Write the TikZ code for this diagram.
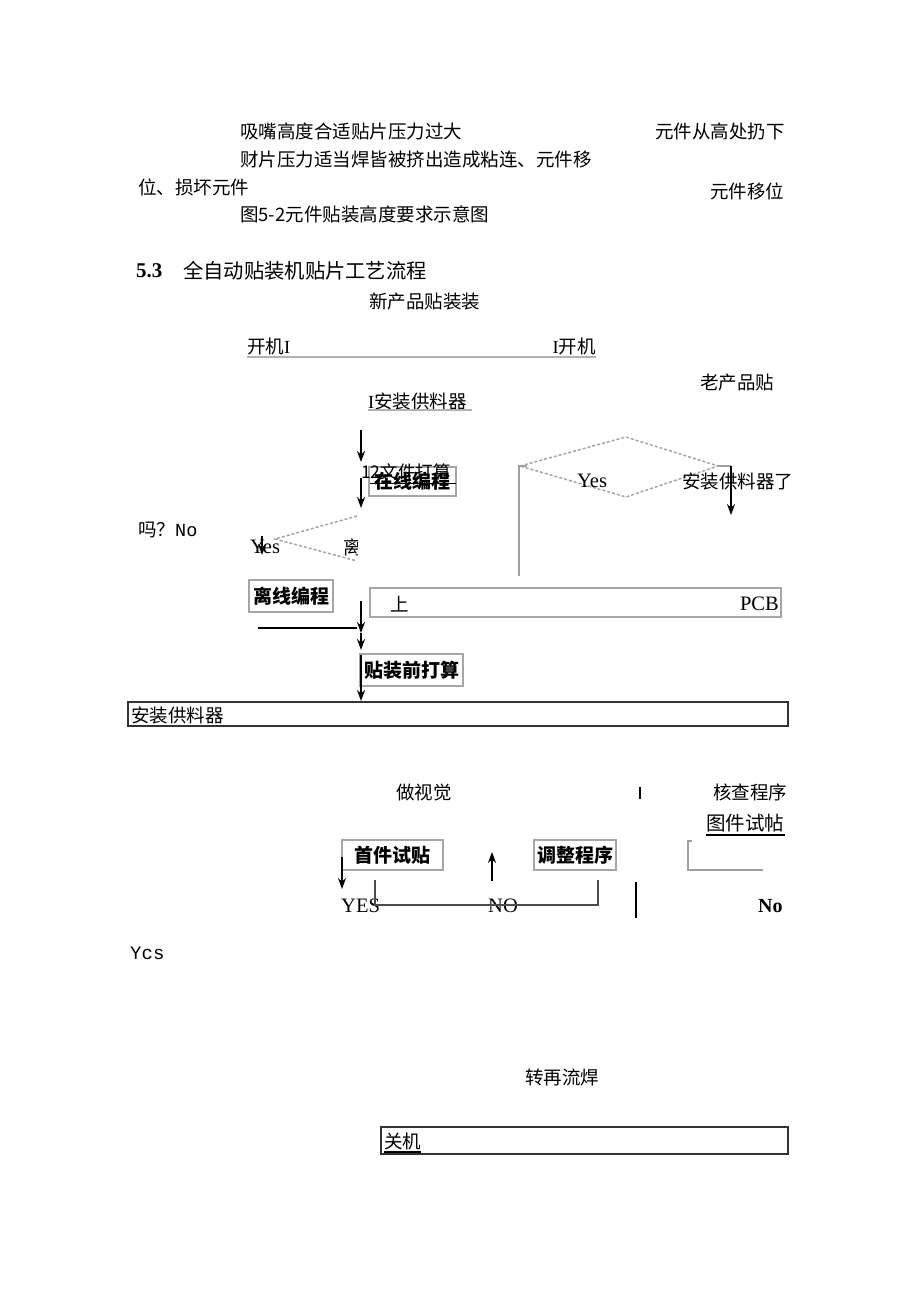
\documentclass[tikz,border=0pt]{standalone}
\usepackage{fontspec}
\setmainfont{Liberation Serif}
\newfontfamily\cjk{Noto Sans CJK SC}
\newfontfamily\monof{Liberation Mono}
\usetikzlibrary{arrows.meta}
\begin{document}
\begin{tikzpicture}[x=1pt,y=-1pt,
  txt/.style={inner sep=0pt, anchor=west, font=\cjk\fontsize{18.5}{19}\selectfont},
  lat/.style={inner sep=0pt, anchor=west, font=\rmfamily\fontsize{20.5}{21}\selectfont},
  boxb/.style={draw=gray!70, line width=1.6pt, inner sep=0pt, font=\cjk\bfseries\fontsize{19}{20}\selectfont},
  wbox/.style={draw=black!80, line width=1.3pt, inner sep=0pt},
  arr/.style={-{Stealth[length=11pt,width=8pt]}, line width=1.5pt, black},
  gline/.style={gray!75, line width=1.6pt},
  dia/.style={gray!70, line width=1.5pt, densely dashed},
  uline/.style={gray!60, line width=2pt}]
\useasboundingbox (0,0) rectangle (920,1301);
\fill[white] (0,0) rectangle (920,1301);

% upper text block
\node[txt] (t1) at (240,131) {吸嘴高度合适贴片压力过大};
\node[txt] (t2) at (655,131) {元件从高处扔下};
\node[txt] (t3) at (240,160) {财片压力适当焊皆被挤出造成粘连、元件移};
\node[txt] (t4) at (138,187) {位、损坏元件};
\node[txt] (t5) at (710,191) {元件移位};
\node[txt] (t6) at (240,214) {图5-2元件贴装高度要求示意图};

% heading
\node[inner sep=0pt, anchor=west, font=\rmfamily\bfseries\fontsize{21}{21}\selectfont] (h53) at (136,271) {5.3};
\node[inner sep=0pt, anchor=west, font=\cjk\fontsize{20.3}{22}\selectfont] (htitle) at (183,271) {全自动贴装机贴片工艺流程};

\node[txt] (newp) at (369,301) {新产品贴装装};
\node[txt] (k1) at (247,347) {开机{\rmfamily I}};
\node[txt, anchor=east] (k2) at (596,347) {{\rmfamily I}开机};
\coordinate (u1a) at (247,357);
\coordinate (u1b) at (596,357);
\draw[uline] (u1a) -- (u1b);
\node[txt] (oldp) at (700,383) {老产品贴};
\node[txt] (az1) at (368,401) {{\rmfamily I}安装供料器};
\coordinate (u2a) at (368,410);
\coordinate (u2b) at (472,410);
\draw[uline] (u2a) -- (u2b);

% online programming
\coordinate (a1s) at (361,430);
\coordinate (a1e) at (361,462);
\draw[arr] (a1s) -- (a1e);
\node[boxb, minimum width=87pt, minimum height=29pt] (zx) at (412.5,481.5) {在线编程};
\node[inner sep=0pt, anchor=west, font=\cjk\fontsize{17.5}{18}\selectfont] (wj) at (361,472) {12文件打算};
\coordinate (wja) at (370,483);
\coordinate (wjb) at (456,483);
\draw[black, line width=1pt] (wja) -- (wjb);
\coordinate (a2s) at (361,478);
\coordinate (a2e) at (361,508);
\draw[arr] (a2s) -- (a2e);

% left partial diamond
\coordinate (dl1) at (357,516);
\coordinate (dlL) at (275,539);
\coordinate (dl2) at (357,561);
\draw[dia] (dl1) -- (dlL) -- (dl2);
\node[lat] (yes1) at (250,547) {Yes};
\coordinate (ya) at (262,536);
\coordinate (yb) at (262,555);
\draw[arr] (ya) -- (yb);
\begin{scope}
  \clip (340,528) rectangle (357,566);
  \node[txt] (li) at (343,547) {离};
\end{scope}
\node[txt] (ma) at (138,530) {吗？{\monof No}};

\node[boxb, minimum width=84pt, minimum height=32pt] (lx) at (291,596) {离线编程};

\coordinate (a3s) at (361,601);
\coordinate (a3e) at (361,633);
\draw[arr] (a3s) -- (a3e);
\coordinate (l1a) at (258,628);
\coordinate (l1b) at (357,628);
\draw[black, line width=1.5pt] (l1a) -- (l1b);
\coordinate (a4e) at (361,650);
\draw[arr] (a3e) -- (a4e);

% right diamond
\coordinate (drT) at (626,437);
\coordinate (drL) at (520,466);
\coordinate (drR) at (718,466);
\coordinate (drB) at (626,497);
\draw[dia] (drL) -- (drT) -- (drR) -- (drB) -- cycle;
\coordinate (lc1) at (527,466);
\coordinate (lc2) at (519,466);
\coordinate (lc3) at (519,576);
\draw[gline] (lc1) -- (lc2) -- (lc3);
\coordinate (rc1) at (731,466);
\coordinate (rc2) at (731,515);
\draw[gline] (drR) -- (rc1);
\draw[arr] (rc1) -- (rc2);
\node[lat] (yes2) at (577,481) {Yes};
\node[txt] (azl) at (682,481) {安装供料器了};

% PCB box
\node[draw=gray!70, line width=1.6pt, inner sep=0pt, minimum width=411pt, minimum height=29pt] (pcb) at (575.5,602.5) {};
\node[txt] (shang) at (390,604) {上};
\node[lat, anchor=east] (pcbt) at (779,604) {PCB};

% pre-placement
\node[boxb, minimum width=103pt, minimum height=32pt] (tqd) at (411.5,670) {贴装前打算};
\coordinate (a5s) at (361,655);
\coordinate (a5e) at (361,701);
\draw[arr] (a5s) -- (a5e);

\node[wbox, minimum width=660pt, minimum height=24pt] (azw) at (458,714) {};
\node[txt] (azwt) at (131,715) {安装供料器};

% vision / check
\node[txt] (zsj) at (396,792) {做视觉};
\coordinate (ti1) at (640,787);
\coordinate (ti2) at (640,799);
\draw[black, line width=1.8pt] (ti1) -- (ti2);
\node[txt] (hc) at (713,792) {核查程序};
\node[inner sep=0pt, anchor=west, font=\cjk\fontsize{19.5}{20}\selectfont] (tj) at (706,823) {图件试帖};
\coordinate (u3a) at (706,835);
\coordinate (u3b) at (785,835);
\draw[black, line width=1.3pt] (u3a) -- (u3b);

\node[boxb, minimum width=101pt, minimum height=30pt] (sj) at (392.5,855) {首件试贴};
\node[boxb, minimum width=82pt, minimum height=30pt] (tz) at (575,855) {调整程序};
\coordinate (a6s) at (342,857);
\coordinate (a6e) at (342,889);
\draw[arr] (a6s) -- (a6e);
\coordinate (a7s) at (492,881);
\coordinate (a7e) at (492,852);
\draw[arr] (a7s) -- (a7e);
\coordinate (bk0) at (692,841);
\coordinate (bk1) at (688,841);
\coordinate (bk2) at (688,870);
\coordinate (bk3) at (763,870);
\draw[gline] (bk0) -- (bk1) -- (bk2) -- (bk3);

\node[lat] (yes3) at (341,906) {YES};
\node[lat] (no3) at (488,906) {NO};
\coordinate (lp1) at (375,880);
\coordinate (lp2) at (375,905);
\coordinate (lp3) at (598,905);
\coordinate (lp4) at (598,880);
\draw[gline, black!70] (lp1) -- (lp2) -- (lp3) -- (lp4);
\coordinate (vl1) at (636,882);
\coordinate (vl2) at (636,918);
\draw[black, line width=1.8pt] (vl1) -- (vl2);
\node[lat, font=\rmfamily\bfseries\fontsize{20}{21}\selectfont] (no4) at (758,906) {No};

\node[inner sep=0pt, anchor=west, font=\monof\fontsize{19}{19}\selectfont] (ycs) at (130,953) {Ycs};
\node[txt] (zzl) at (525,1077) {转再流焊};

\node[wbox, minimum width=407pt, minimum height=27pt] (gj) at (584.5,1140.5) {};
\node[txt] (gjt) at (384,1141) {关机};
\coordinate (u4a) at (384,1152);
\coordinate (u4b) at (421,1152);
\draw[black, line width=1.2pt] (u4a) -- (u4b);
\end{tikzpicture}
\end{document}
